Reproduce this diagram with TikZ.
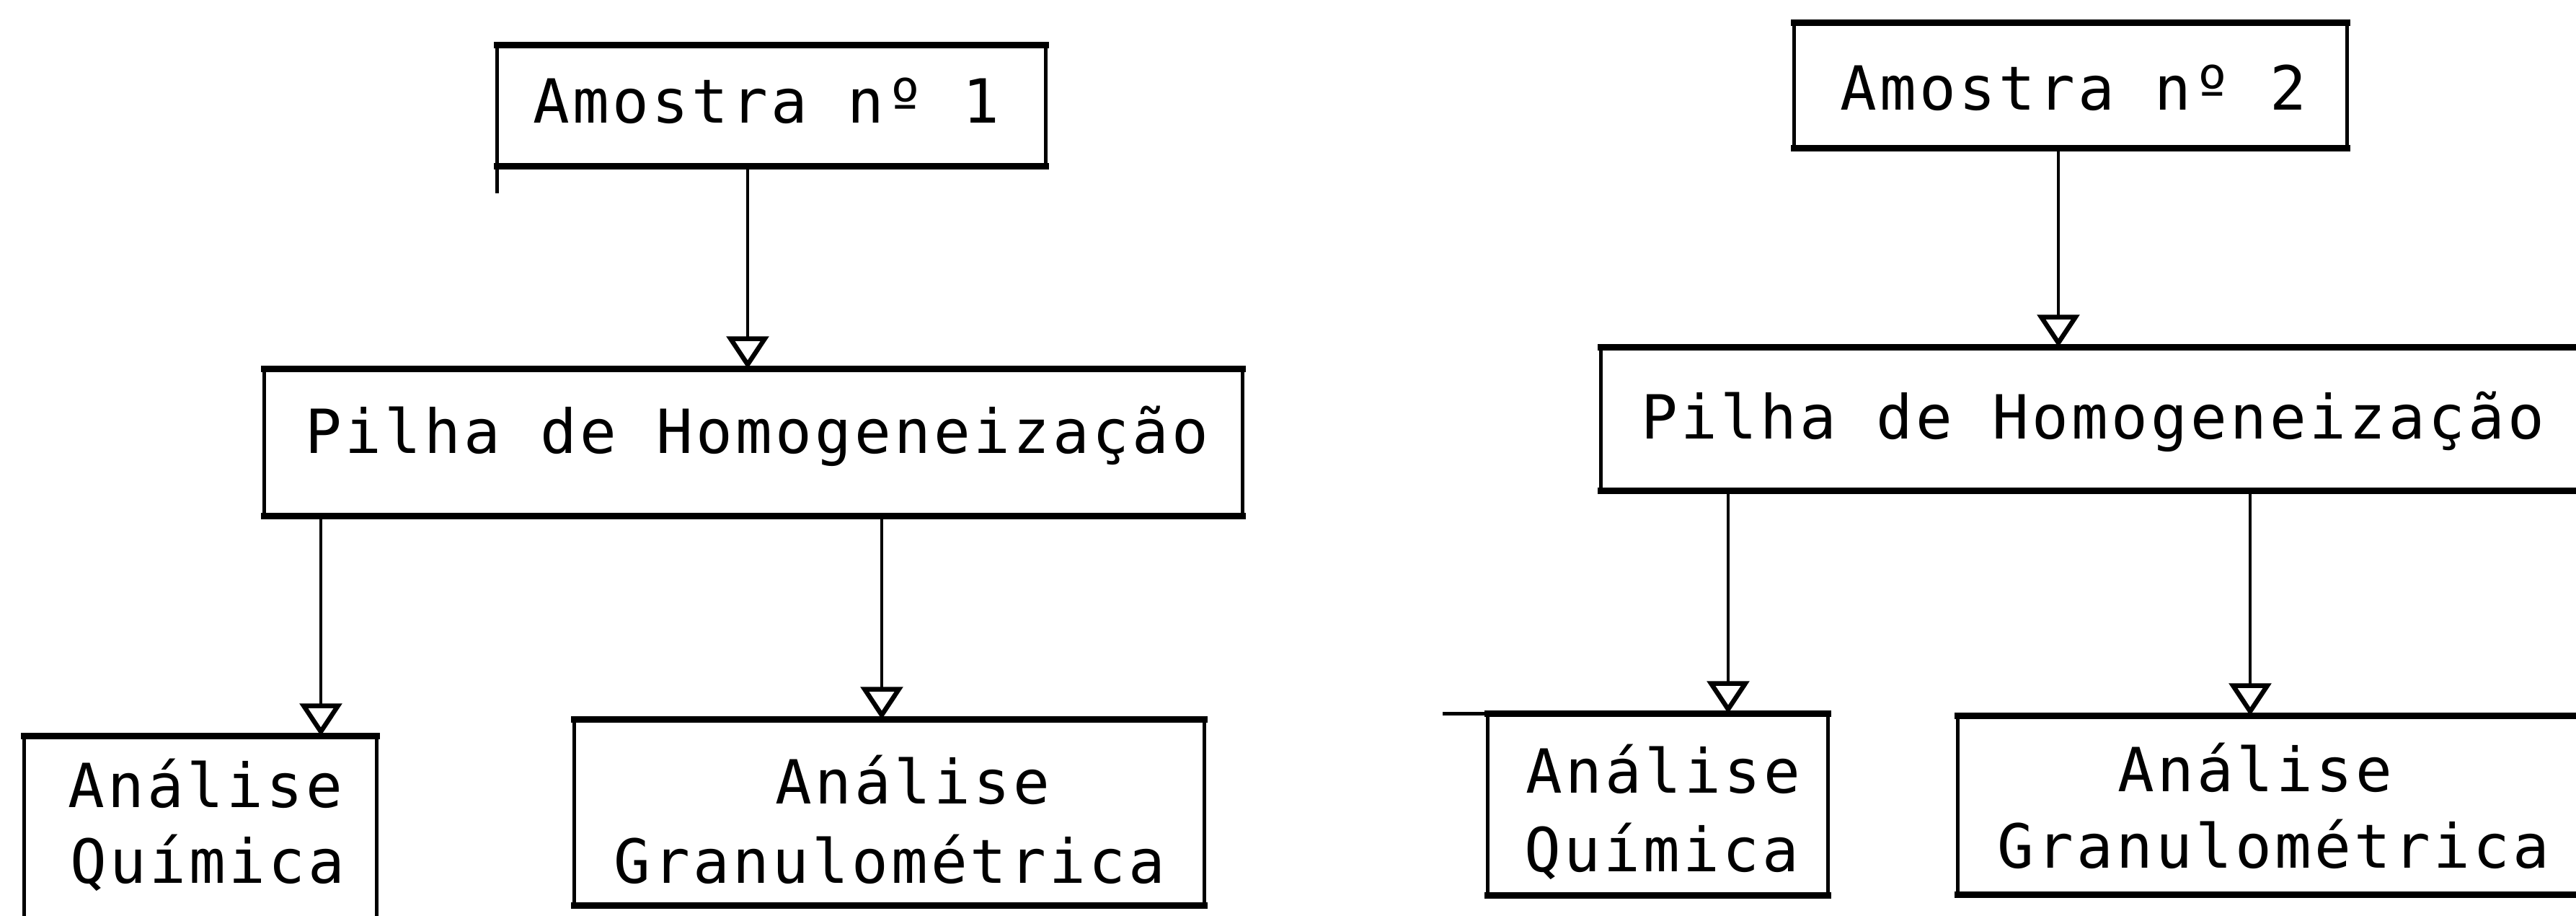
\documentclass[tikz,border=0pt]{standalone}
\usepackage{fontspec}
\newfontfamily\tw[LetterSpace=5]{DejaVu Sans Mono}
\usetikzlibrary{arrows.meta}
\tikzset{
  boxn/.style={rectangle, draw=none, inner sep=0pt},
  topline/.style={line width=0.085cm, line cap=rect},
  sideline/.style={line width=0.045cm},
  lbl/.style={inner sep=0pt, anchor=base, font=\tw\fontsize{24}{29}\selectfont},
  arr/.style={line width=0.035cm, -{Triangle[open, length=0.45cm, width=0.58cm, line width=0.065cm]}}
}
\newcommand\fbx[1]{%
  \draw[topline] (#1.north west) -- (#1.north east);
  \draw[topline] (#1.south west) -- (#1.south east);
  \draw[sideline] (#1.north west) -- (#1.south west);
  \draw[sideline] (#1.north east) -- (#1.south east);}
\begin{document}
\begin{tikzpicture}
\useasboundingbox (0,0) rectangle (35.73,-12.69);
% boxes
\node[boxn, minimum width=7.60cm, minimum height=1.67cm] (A1) at (10.70,-1.465) {};
\node[boxn, minimum width=13.56cm, minimum height=2.03cm] (P1) at (10.45,-6.135) {};
\node[boxn, minimum width=4.88cm, minimum height=3.19cm] (Q1) at (2.78,-11.805) {};
\node[boxn, minimum width=8.73cm, minimum height=2.57cm] (G1) at (12.335,-11.265) {};
\node[boxn, minimum width=7.66cm, minimum height=1.73cm] (A2) at (28.72,-1.185) {};
\node[boxn, minimum width=14.29cm, minimum height=1.98cm] (P2) at (29.355,-5.81) {};
\node[boxn, minimum width=4.71cm, minimum height=2.51cm] (Q2) at (22.995,-11.155) {};
\node[boxn, minimum width=9.34cm, minimum height=2.47cm] (G2) at (31.83,-11.165) {};
\fbx{A1}\fbx{P1}\fbx{Q1}\fbx{G1}\fbx{A2}\fbx{P2}\fbx{Q2}\fbx{G2}
% small overruns of the typed frame lines
\draw[sideline] (A1.south west) -- ++(0,-0.37);
\draw[line width=0.05cm] (Q2.north west) -- ++(-0.62,0);
% labels
\node[lbl] (A1t) at (10.63,-1.70) {Amostra nº 1};
\node[lbl] (A2t) at (28.76,-1.52) {Amostra nº 2};
\node[lbl] (P1t) at (10.50,-6.28) {Pilha de Homogeneização};
\node[lbl] (P2t) at (29.03,-6.08) {Pilha de Homogeneização};
\node[lbl] (Q1a) at (2.85,-11.19) {Análise};
\node[lbl] (Q1b) at (2.88,-12.24) {Química};
\node[lbl] (G1a) at (12.66,-11.14) {Análise};
\node[lbl] (G1b) at (12.34,-12.24) {Granulométrica};
\node[lbl] (Q2a) at (23.07,-10.99) {Análise};
\node[lbl] (Q2b) at (23.05,-12.08) {Química};
\node[lbl] (G2a) at (31.28,-10.97) {Análise};
\node[lbl] (G2b) at (31.53,-12.03) {Granulométrica};
% arrow columns
\coordinate (x1) at (10.37,0);
\coordinate (x2) at (4.45,0);
\coordinate (x3) at (12.23,0);
\coordinate (x4) at (28.55,0);
\coordinate (x5) at (23.97,0);
\coordinate (x6) at (31.21,0);
\draw[arr] (A1.south -| x1) -- (P1.north -| x1);
\draw[arr] (P1.south -| x2) -- (Q1.north -| x2);
\draw[arr] (P1.south -| x3) -- (G1.north -| x3);
\draw[arr] (A2.south -| x4) -- (P2.north -| x4);
\draw[arr] (P2.south -| x5) -- (Q2.north -| x5);
\draw[arr] (P2.south -| x6) -- (G2.north -| x6);
\end{tikzpicture}
\end{document}
